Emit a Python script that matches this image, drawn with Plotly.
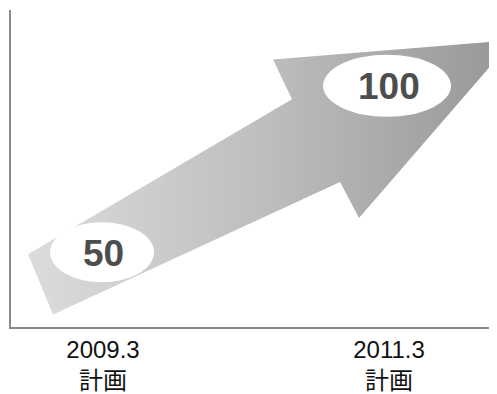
import plotly.graph_objects as go

# ---- data ----
categories = ["2009.3<br>計画", "2011.3<br>計画"]
values = [50, 100]
labels = ["50", "100"]

# ---- layout geometry (page body adds an 8px margin) ----
W, H = 489, 386
ML, MR, MT, MB = 3, 0, 2, 58
x_range = [-0.3217, 1.3776]
y_range = [27.55, 122.75]
pw, ph = W - ML - MR, H - MT - MB
sx = pw / (x_range[1] - x_range[0])   # px per x unit
sy = ph / (y_range[1] - y_range[0])   # px per y unit

xpos = list(range(len(categories)))

def off(xv, yv, dxp, dyp):
    """point offset from a data point by pixel amounts (dy positive = down)"""
    return xv + dxp / sx, yv - dyp / sy

(x_a, y_a), (x_b, y_b) = (xpos[0], values[0]), (xpos[1], values[1])
tail = [off(x_a, y_a, -75, 2), off(x_a, y_a, -50, 64)]
head = [off(x_b, y_b, -49, 99), off(x_b, y_b, -30, 136), off(x_b, y_b, 124, -47),
        off(x_b, y_b, -116, -27), off(x_b, y_b, -97, 14)]
poly = [tail[0], tail[1]] + head + [tail[0]]
ax_ = [p[0] for p in poly]
ay_ = [p[1] for p in poly]

fig = go.Figure()
fig.add_trace(go.Scatter(
    x=ax_, y=ay_, mode="lines", fill="toself",
    line=dict(width=0, color="rgba(0,0,0,0)"),
    fillgradient=dict(type="horizontal",
                      colorscale=[[0, "#dcdcdc"], [0.5, "#bdbdbd"], [1, "#969696"]]),
    hoverinfo="skip", showlegend=False,
))

shapes = []
ell = [(52, 30, -1), (64, 31, -2)]
for (xv, yv), (rw, rh, dx) in zip(zip(xpos, values), ell):
    shapes.append(dict(type="circle", xref="x", yref="y",
                       xsizemode="pixel", ysizemode="pixel",
                       xanchor=xv, yanchor=yv,
                       x0=dx - rw, x1=dx + rw, y0=-rh, y1=rh,
                       fillcolor="white", line=dict(width=0), layer="above"))

annotations = []
for xv, yv, t in zip(xpos, values, labels):
    annotations.append(dict(x=xv, y=yv, xref="x", yref="y", text="<b>%s</b>" % t,
                            showarrow=False, yshift=-1,
                            font=dict(family="Liberation Sans, Arial, sans-serif",
                                      size=37, color="#4d4d4d")))

fig.update_layout(
    width=W, height=H,
    margin=dict(l=ML, r=MR, t=MT, b=MB, pad=0),
    paper_bgcolor="white", plot_bgcolor="white",
    shapes=shapes, annotations=annotations,
    xaxis=dict(range=x_range, tickmode="array", tickvals=xpos, ticktext=categories,
               showgrid=False, zeroline=False, showline=True, linecolor="#8a8a8a",
               linewidth=2, ticks="",
               tickfont=dict(family="'Liberation Sans', Arial, 'Noto Sans CJK JP', sans-serif",
                             size=24, color="#111111")),
    yaxis=dict(range=y_range, showgrid=False, zeroline=False, showline=True,
               linecolor="#8a8a8a", linewidth=2, showticklabels=False, ticks=""),
)

fig.write_html("out.html")
